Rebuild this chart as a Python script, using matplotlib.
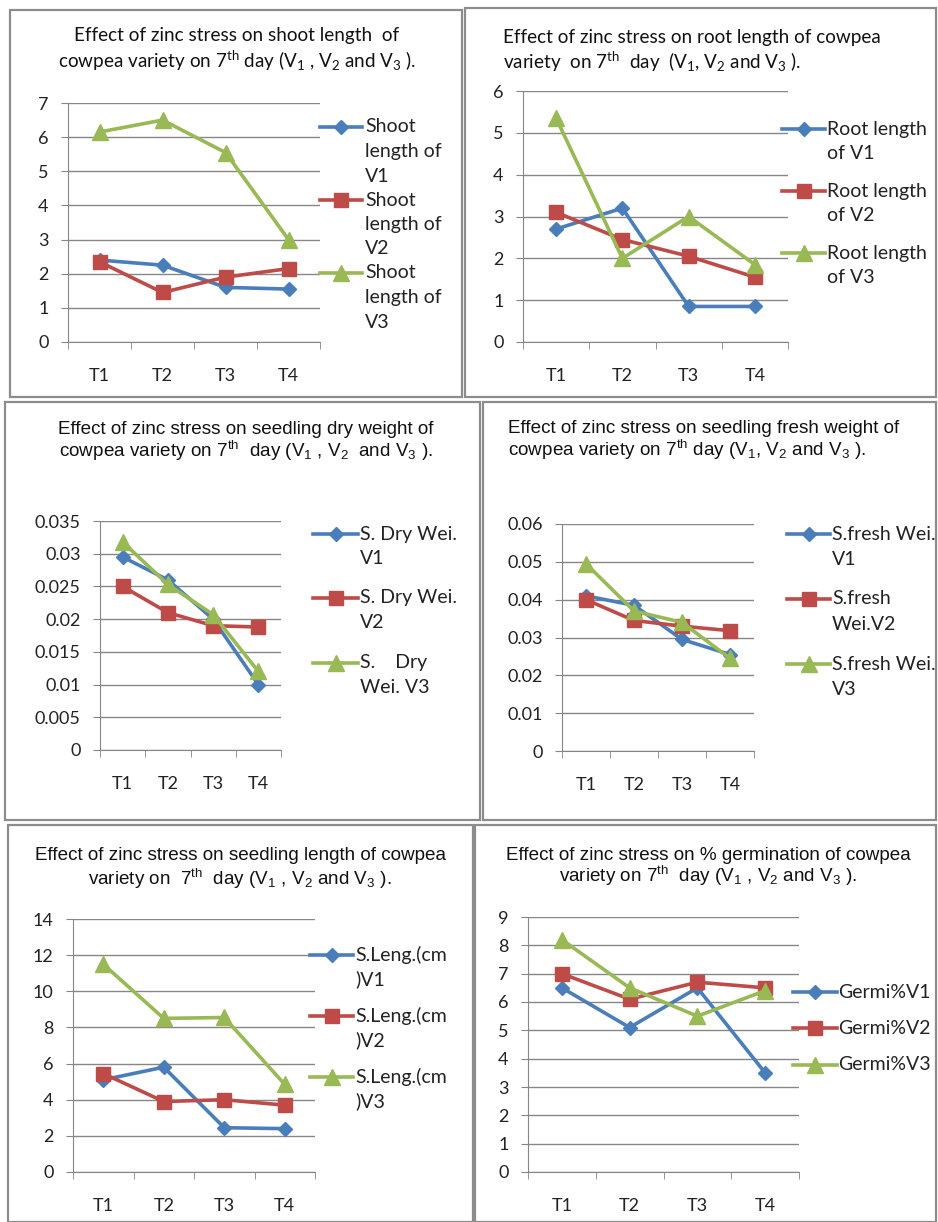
import matplotlib
matplotlib.use("Agg")
import matplotlib.pyplot as plt
from matplotlib.lines import Line2D
from matplotlib.patches import Rectangle
from matplotlib.ticker import FuncFormatter

W, H = 938, 1222

cats = ["T1", "T2", "T3", "T4"]

shoot_v1 = [2.4, 2.25, 1.6, 1.55]
shoot_v2 = [2.35, 1.45, 1.9, 2.15]
shoot_v3 = [6.15, 6.5, 5.55, 3.0]

root_v1 = [2.7, 3.2, 0.85, 0.85]
root_v2 = [3.1, 2.45, 2.05, 1.55]
root_v3 = [5.35, 2.0, 3.0, 1.85]

dry_v1 = [0.0295, 0.026, 0.020, 0.010]
dry_v2 = [0.025, 0.021, 0.019, 0.0188]
dry_v3 = [0.0318, 0.0253, 0.0207, 0.012]

fresh_v1 = [0.041, 0.0385, 0.0295, 0.0255]
fresh_v2 = [0.040, 0.0345, 0.033, 0.0318]
fresh_v3 = [0.0495, 0.037, 0.034, 0.0245]

leng_v1 = [5.1, 5.8, 2.45, 2.4]
leng_v2 = [5.45, 3.9, 4.0, 3.7]
leng_v3 = [11.5, 8.5, 8.55, 4.85]

germ_v1 = [6.5, 5.1, 6.5, 3.5]
germ_v2 = [7.0, 6.1, 6.7, 6.5]
germ_v3 = [8.2, 6.5, 5.5, 6.4]

colors = ["#4A7EBB", "#BE4B48", "#98B954"]
markers = ["D", "s", "^"]
msizes = [7.5, 10, 11]

CAL = ["Lato", "DejaVu Sans"]
ARI = ["Liberation Sans", "DejaVu Sans"]
GREY = "#868686"

fig = plt.figure(figsize=(W / 100, H / 100), dpi=100)


def fx(x):
    return x / W


def fy(y):
    return 1 - y / H


def box(l, t, r, b):
    fig.add_artist(Rectangle((fx(l), fy(b)), (r - l) / W, (b - t) / H,
                             transform=fig.transFigure, fill=False,
                             edgecolor="#8c8c8c", lw=1.6))


def make_ax(l, t, r, b, ymax, ystep, series):
    ax = fig.add_axes([fx(l), fy(b), (r - l) / W, (b - t) / H])
    x = range(len(cats))
    for i, s in enumerate(series):
        ax.plot(x, s, color=colors[i], marker=markers[i], ms=msizes[i],
                lw=2.6, clip_on=False, zorder=3 + i)
    ax.set_xlim(-0.5, len(cats) - 0.5)
    ax.set_ylim(0, ymax)
    n = int(round(ymax / ystep))
    ax.set_yticks([k * ystep for k in range(n + 1)])
    ax.yaxis.set_major_formatter(FuncFormatter(lambda v, p: f"{round(v, 4):g}"))
    ax.set_xticks(list(x))
    ax.set_xticklabels(cats)
    ax.set_xticks([k - 0.5 for k in range(len(cats) + 1)], minor=True)
    ax.tick_params(axis="x", which="major", length=0, pad=19)
    ax.tick_params(axis="x", which="minor", length=5, color=GREY, direction="out")
    ax.tick_params(axis="y", length=5, color=GREY, direction="out", pad=9)
    for lab in ax.get_xticklabels() + ax.get_yticklabels():
        lab.set_family(CAL)
        lab.set_fontsize(13)
        lab.set_color("#222222")
    for sp in ["top", "right"]:
        ax.spines[sp].set_visible(False)
    for sp in ["left", "bottom"]:
        ax.spines[sp].set_color(GREY)
    ax.grid(axis="y", color=GREY, lw=1)
    ax.set_axisbelow(True)
    return ax


def legend(x0, x1, xt, entries, dy=24.5):
    # entries: list of (first line y, [text lines])
    for i, (y, lines) in enumerate(entries):
        xm = (x0 + x1) / 2
        fig.add_artist(Line2D([fx(x0), fx(xm), fx(x1)], [fy(y)] * 3,
                              transform=fig.transFigure, color=colors[i],
                              lw=2.6, marker=markers[i], markevery=[1],
                              ms=msizes[i]))
        for k, s in enumerate(lines):
            fig.text(fx(xt), fy(y + k * dy), s, family=CAL, fontsize=14,
                     va="center", ha="left", color="#222222")


def title(x, y1, y2, l1, l2, ha, fam, size):
    fig.text(fx(x), fy(y1), l1, ha=ha, va="center", family=fam, fontsize=size, color="#111111")
    fig.text(fx(x), fy(y2), l2, ha=ha, va="center", family=fam, fontsize=size, color="#111111")


sub = r"$\mathregular{_{%s}}$"
sup = r"$\mathregular{^{th}}$"
vs = "(V" + sub % "1" + " , V" + sub % "2" + " and V" + sub % "3" + " )."

# panel 1
box(10, 10, 462, 397)
make_ax(68, 103, 320, 342, 7, 1, [shoot_v1, shoot_v2, shoot_v3])
title(237, 35, 61, "Effect of zinc stress on shoot length  of",
      "cowpea variety on 7" + sup + " day " + vs, "center", CAL, 13.6)
legend(320, 362, 365, [(127, ["Shoot", "length of", "V1"]),
                       (200, ["Shoot", "length of", "V2"]),
                       (273, ["Shoot", "length of", "V3"])])

# panel 2
box(465, 8, 936, 397)
make_ax(523, 91, 788, 342, 6, 1, [root_v1, root_v2, root_v3])
title(503, 37, 62, "Effect of zinc stress on root length of cowpea",
      "variety  on 7" + sup + "  day  (V" + sub % "1" + ", V" + sub % "2"
      + " and V" + sub % "3" + " ).", "left", CAL, 13.6)
legend(782, 825, 827, [(129, ["Root length", "of V1"]),
                       (191, ["Root length", "of V2"]),
                       (253, ["Root length", "of V3"])])

# panel 3
box(5, 402, 480, 820)
make_ax(100, 521, 281, 750, 0.035, 0.005, [dry_v1, dry_v2, dry_v3])
title(246, 429, 451, "Effect of zinc stress on seedling dry weight of",
      "cowpea variety on 7" + sup + "  day " + "(V" + sub % "1" + " , V" + sub % "2"
      + "  and V" + sub % "3" + " ).", "center", ARI, 13.6)
legend(313, 358, 360, [(534, ["S. Dry Wei.", "V1"]),
                       (598, ["S. Dry Wei.", "V2"]),
                       (663, ["S.    Dry", "Wei. V3"])])

# panel 4
box(483, 402, 936, 820)
make_ax(562, 524, 754, 751, 0.06, 0.01, [fresh_v1, fresh_v2, fresh_v3])
title(508, 428, 450, "Effect of zinc stress on seedling fresh weight of",
      "cowpea variety on 7" + sup + " day (V" + sub % "1" + ", V" + sub % "2"
      + " and V" + sub % "3" + " ).", "left", ARI, 13.6)
legend(787, 830, 832, [(534, ["S.fresh Wei.", "V1"]),
                       (599, ["S.fresh", "Wei.V2"]),
                       (664, ["S.fresh Wei.", "V3"])], dy=25.5)

# panel 5
box(8, 825, 473, 1222)
make_ax(73, 919, 315, 1172, 14, 2, [leng_v1, leng_v2, leng_v3])
title(240, 856, 879, "Effect of zinc stress on seedling length of cowpea",
      "variety on  7" + sup + "  day " + vs, "center", ARI, 13.6)
legend(310, 353, 355, [(955, ["S.Leng.(cm", ")V1"]),
                       (1016, ["S.Leng.(cm", ")V2"]),
                       (1077, ["S.Leng.(cm", ")V3"])])

# panel 6
box(475, 825, 936, 1222)
make_ax(528, 917, 799, 1172, 9, 1, [germ_v1, germ_v2, germ_v3])
title(708, 855, 876, "Effect of zinc stress on % germination of cowpea",
      "variety on 7" + sup + "  day " + vs, "center", ARI, 13.6)
legend(793, 837, 838, [(992, ["Germi%V1"]),
                       (1028, ["Germi%V2"]),
                       (1065, ["Germi%V3"])])

fig.savefig("out.png", dpi=100, facecolor="white")
